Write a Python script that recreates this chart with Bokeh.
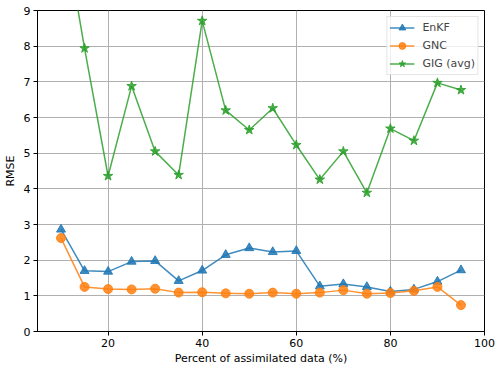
from bokeh.plotting import figure
from bokeh.models import FixedTicker, Range1d
from bokeh.embed import file_html
from bokeh.resources import INLINE

pct = [10, 15, 20, 25, 30, 35, 40, 45, 50, 55, 60, 65, 70, 75, 80, 85, 90, 95]
enkf = [2.86, 1.70, 1.68, 1.96, 1.98, 1.42, 1.71, 2.15, 2.34, 2.23, 2.26, 1.27, 1.33, 1.25, 1.12, 1.18, 1.40, 1.72]
gnc = [2.62, 1.25, 1.19, 1.18, 1.20, 1.09, 1.10, 1.07, 1.06, 1.09, 1.06, 1.09, 1.16, 1.06, 1.08, 1.14, 1.25, 0.74]
gig = [11.8, 7.94, 4.36, 6.88, 5.05, 4.39, 8.71, 6.20, 5.65, 6.26, 5.23, 4.26, 5.05, 3.89, 5.69, 5.35, 6.97, 6.77]
x_ticks = [20, 40, 60, 80, 100]
y_ticks = [0, 1, 2, 3, 4, 5, 6, 7, 8, 9]

FONT = "DejaVu Sans"
BLUE, ORANGE, GREEN = "#1f77b4", "#ff7f0e", "#2ca02c"

p = figure(width=500, height=372, output_backend="svg", toolbar_location=None,
           x_range=Range1d(5, 100), y_range=Range1d(0, 9),
           min_border_left=35, min_border_right=16, min_border_top=10, min_border_bottom=41)

p.outline_line_color = "black"
p.outline_line_width = 1
p.background_fill_color = "white"
p.border_fill_color = "white"

for ax in (p.xaxis[0], p.yaxis[0]):
    ax.major_label_text_font = FONT
    ax.major_label_text_font_size = "11px"
    ax.major_label_text_color = "black"
    ax.axis_label_text_font = FONT
    ax.axis_label_text_font_size = "11px"
    ax.axis_label_text_font_style = "normal"
    ax.axis_label_text_color = "black"
    ax.major_tick_out = 4
    ax.major_tick_in = 0
    ax.minor_tick_out = 0
    ax.minor_tick_in = 0
    ax.axis_line_color = "black"
    ax.major_tick_line_color = "black"

p.xaxis[0].ticker = FixedTicker(ticks=x_ticks)
p.yaxis[0].ticker = FixedTicker(ticks=y_ticks)
p.xaxis[0].axis_label = "Percent of assimilated data (%)"
p.yaxis[0].axis_label = "RMSE"
p.xaxis[0].major_label_standoff = 3
p.yaxis[0].major_label_standoff = 3
p.xaxis[0].axis_label_standoff = 2
p.yaxis[0].axis_label_standoff = 4

p.grid.grid_line_color = "#b0b0b0"
p.grid.grid_line_width = 1
p.xgrid.ticker = FixedTicker(ticks=x_ticks)
p.ygrid.ticker = FixedTicker(ticks=y_ticks)

A = 0.85
p.line(pct, enkf, color=BLUE, line_width=1.5, alpha=A, legend_label="EnKF")
p.scatter(pct, enkf, marker="triangle", size=9, color=BLUE, alpha=A, legend_label="EnKF")
p.line(pct, gnc, color=ORANGE, line_width=1.5, alpha=A, legend_label="GNC")
p.scatter(pct, gnc, marker="circle", size=9, color=ORANGE, alpha=A, legend_label="GNC")
p.line(pct, gig, color=GREEN, line_width=1.5, alpha=A, legend_label="GIG (avg)")
p.scatter(pct, gig, marker="star", size=10, color=GREEN, alpha=A, legend_label="GIG (avg)")

lg = p.legend[0]
lg.location = "top_right"
lg.margin = 6
lg.padding = 2
lg.spacing = 1
lg.label_text_font = FONT
lg.label_text_font_size = "11px"
lg.label_height = 17
lg.glyph_height = 17
lg.glyph_width = 25
lg.label_standoff = 8
lg.border_line_color = "#cccccc"
lg.border_line_width = 1
lg.background_fill_alpha = 0.8

open("out.html", "w").write(file_html(p, INLINE))
